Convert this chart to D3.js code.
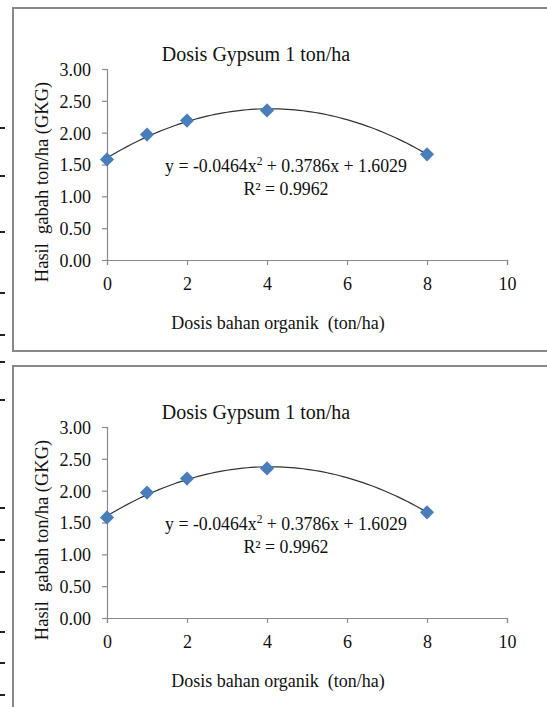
<!DOCTYPE html>
<html>
<head>
<meta charset="utf-8">
<script src="https://cdn.jsdelivr.net/npm/d3@7/dist/d3.min.js"></script>
<style>
  body { margin: 0; background: #fff; }
  svg { display: block; }
  svg text { font-family: "Liberation Serif", "Times New Roman", serif; white-space: pre; }
</style>
</head>
<body>
<svg width="547" height="707"></svg>
<script>
// values
const doses = [0, 1, 2, 4, 8];
const yields = [1.58, 1.97, 2.19, 2.35, 1.66];
const xTicks = [0, 2, 4, 6, 8, 10];
const yTicks = [0, 0.5, 1, 1.5, 2, 2.5, 3];
// trendline coefficients as printed: a x^2 + b x + c
const fitCoef = [-0.0464, 0.3786, 1.6029];
const rSquared = '0.9962';

const title = 'Dosis Gypsum 1 ton/ha';
const xTitle = 'Dosis bahan organik  (ton/ha)';
const yTitle = 'Hasil  gabah ton/ha (GKG)';

const svg = d3.select('svg');
const serif = '"Liberation Serif", "Times New Roman", serif';

function drawChart(top) {
  const g = svg.append('g').attr('transform', `translate(0,${top})`);

  // chart frame (runs off the right edge like the scan)
  g.append('rect')
    .attr('x', 13).attr('y', 8)
    .attr('width', 600).attr('height', 343)
    .attr('fill', 'none')
    .attr('stroke', '#888')
    .attr('stroke-width', 2);

  const x = d3.scaleLinear().domain([0, 10]).range([107, 507]);
  const y = d3.scaleLinear().domain([0, 3]).range([260, 69]);

  const yAxis = g.append('g')
    .attr('transform', `translate(${x(0)},0)`)
    .call(d3.axisLeft(y).tickValues(yTicks).tickFormat(d3.format('.2f')).tickSize(5).tickPadding(11));

  const xAxis = g.append('g')
    .attr('transform', `translate(0,${y(0)})`)
    .call(d3.axisBottom(x).tickValues(xTicks).tickSize(5).tickPadding(12));

  [xAxis, yAxis].forEach(a => {
    a.attr('font-family', serif).attr('font-size', 18);
    a.select('.domain').attr('stroke', '#8a8a8a').attr('stroke-width', 1.2);
    a.selectAll('.tick line').attr('stroke', '#8a8a8a').attr('stroke-width', 1.2);
    a.selectAll('.tick text').attr('fill', '#111');
  });
  yAxis.selectAll('.tick text').attr('dy', '0.36em');

  // polynomial trendline over the data range
  const fit = t => fitCoef[0] * t * t + fitCoef[1] * t + fitCoef[2];
  const curveX = d3.range(0, 8.001, 0.1);
  g.append('path')
    .datum(curveX)
    .attr('fill', 'none')
    .attr('stroke', '#333')
    .attr('stroke-width', 1.2)
    .attr('d', d3.line().x(d => x(d)).y(d => y(fit(d))));

  g.selectAll('.pt')
    .data(doses)
    .enter()
    .append('path')
    .classed('pt', true)
    .attr('d', d3.symbol(d3.symbolSquare, 100))
    .attr('transform', (d, i) => `translate(${x(d)},${y(yields[i])}) rotate(45)`)
    .attr('fill', '#4a7ebb');

  g.append('text')
    .attr('x', 256).attr('y', 61)
    .attr('text-anchor', 'middle')
    .style('font-size', '20px')
    .attr('fill', '#111')
    .text(title);

  const eq = g.append('text')
    .attr('x', 286).attr('y', 172)
    .attr('text-anchor', 'middle')
    .style('font-size', '17.8px')
    .attr('fill', '#111');
  eq.append('tspan').text(`y = ${fitCoef[0]}x`);
  eq.append('tspan').attr('dy', -7).style('font-size', '11.5px').text('2');
  eq.append('tspan').attr('dy', 7).text(` + ${fitCoef[1]}x + ${fitCoef[2]}`);

  g.append('text')
    .attr('x', 286).attr('y', 195)
    .attr('text-anchor', 'middle')
    .style('font-size', '17.8px')
    .attr('fill', '#111')
    .text(`R² = ${rSquared}`);

  g.append('text')
    .attr('x', 278).attr('y', 329)
    .attr('text-anchor', 'middle')
    .style('font-size', '18px')
    .attr('fill', '#111')
    .text(xTitle);

  g.append('text')
    .attr('transform', 'translate(48,182) rotate(-90)')
    .attr('text-anchor', 'middle')
    .style('font-size', '18.5px')
    .attr('fill', '#111')
    .text(yTitle);
}

drawChart(0);
drawChart(358);

// clipped bits of the surrounding document at the left edge, drawn as short strokes
const edgeMarks = [128, 176, 232, 293, 335, 362, 400, 508, 540, 572, 632, 663, 695];
svg.selectAll('.edge')
  .data(edgeMarks)
  .enter()
  .append('rect')
  .classed('edge', true)
  .attr('x', 0)
  .attr('y', d => d - 1)
  .attr('width', 5)
  .attr('height', 2)
  .attr('fill', '#222');
</script>
</body>
</html>
